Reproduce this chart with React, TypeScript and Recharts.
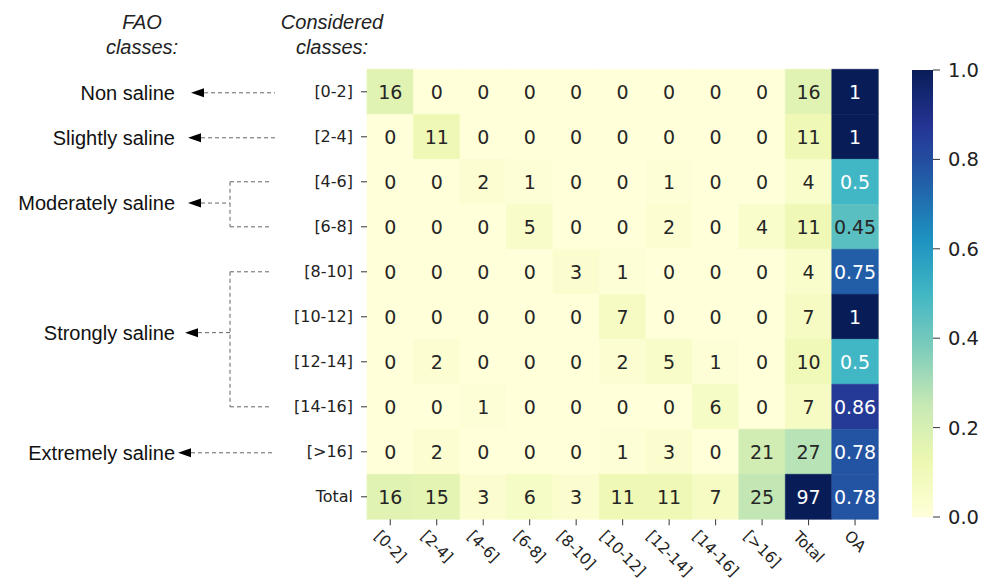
import React from "react";
import { BarChart, Bar, XAxis, YAxis, Cell, LabelList } from "recharts";

// confusion matrix of salinity classes (rows: considered, cols: predicted)
const rowLabels = ["[0-2]", "[2-4]", "[4-6]", "[6-8]", "[8-10]", "[10-12]", "[12-14]", "[14-16]", "[>16]", "Total"];
const colLabels = ["[0-2]", "[2-4]", "[4-6]", "[6-8]", "[8-10]", "[10-12]", "[12-14]", "[14-16]", "[>16]", "Total", "OA"];

const classCounts = [
  [16, 0, 0, 0, 0, 0, 0, 0, 0],
  [0, 11, 0, 0, 0, 0, 0, 0, 0],
  [0, 0, 2, 1, 0, 0, 1, 0, 0],
  [0, 0, 0, 5, 0, 0, 2, 0, 4],
  [0, 0, 0, 0, 3, 1, 0, 0, 0],
  [0, 0, 0, 0, 0, 7, 0, 0, 0],
  [0, 2, 0, 0, 0, 2, 5, 1, 0],
  [0, 0, 1, 0, 0, 0, 0, 6, 0],
  [0, 2, 0, 0, 0, 1, 3, 0, 21],
];
const rowTotals = [16, 11, 4, 11, 4, 7, 10, 7, 27];
const colTotals = [16, 15, 3, 6, 3, 11, 11, 7, 25];
const grandTotal = 97;
const overallAccuracy = [1, 1, 0.5, 0.45, 0.75, 1, 0.5, 0.86, 0.78, 0.78];
const colorbarTicks = [0, 0.2, 0.4, 0.6, 0.8, 1.0];

const faoGroups = [
  { label: "Non saline", rows: [0], at: 0, tip: 191 },
  { label: "Slightly saline", rows: [1], at: 1, tip: 188 },
  { label: "Moderately saline", rows: [2, 3], at: 2.45, tip: 188 },
  { label: "Strongly saline", rows: [4, 5, 6, 7], at: 5.33, tip: 185 },
  { label: "Extremely saline", rows: [8], at: 8, tip: 178 },
];

// layout
const W = 989;
const H = 587;
const TOP = 69.3;
const ROW_H = 45;
const PLOT_LEFT = 367;
const PLOT_RIGHT = 878.3;
const Y_AXIS_W = 100;
const X_AXIS_H = 60;
const rowCenter = (i: number) => TOP + ROW_H * (i + 0.5);

const YLGNBU = ["#ffffd9", "#edf8b1", "#c7e9b4", "#7fcdbb", "#41b6c4", "#1d91c0", "#225ea8", "#253494", "#081d58"];

function hexRgb(h: string) {
  return [1, 3, 5].map((i) => parseInt(h.slice(i, i + 2), 16));
}

function ylgnbu(t: number) {
  const v = Math.max(0, Math.min(1, t)) * (YLGNBU.length - 1);
  const i = Math.min(Math.floor(v), YLGNBU.length - 2);
  const f = v - i;
  const a = hexRgb(YLGNBU[i]);
  const b = hexRgb(YLGNBU[i + 1]);
  const c = a.map((x, k) => Math.round(x + (b[k] - x) * f));
  return { css: `rgb(${c[0]},${c[1]},${c[2]})`, rgb: c };
}

function textOn(rgb: number[]) {
  const lin = rgb.map((x) => {
    const s = x / 255;
    return s <= 0.03928 ? s / 12.92 : Math.pow((s + 0.055) / 1.055, 2.4);
  });
  const lum = 0.2126 * lin[0] + 0.7152 * lin[1] + 0.0722 * lin[2];
  return lum > 0.408 ? "#262626" : "#ffffff";
}

// value and colour scale position for every cell
function cellValue(r: number, c: number) {
  const last = rowLabels.length - 1;
  if (c === colLabels.length - 1) return { v: overallAccuracy[r], n: overallAccuracy[r] };
  let v: number;
  if (r < last && c < 9) v = classCounts[r][c];
  else if (r < last) v = rowTotals[r];
  else if (c < 9) v = colTotals[c];
  else v = grandTotal;
  return { v, n: v / grandTotal };
}

const data = rowLabels.map((label, r) => {
  const o: any = { label };
  colLabels.forEach((_, c) => {
    o[`c${c}`] = 1;
    o[`t${c}`] = String(cellValue(r, c).v);
  });
  return o;
});

const CHAR_W: Record<string, number> = {
  "[": 0.39, "]": 0.39, "-": 0.361, ">": 0.838, T: 0.611, o: 0.612, t: 0.392, a: 0.613, l: 0.278, O: 0.787, A: 0.684,
};
const textWidth = (s: string, fs: number) =>
  s.split("").reduce((w, ch) => w + (CHAR_W[ch] ?? 0.636), 0) * fs;

const XTick = (props: any) => {
  const { x, y, payload } = props;
  const label = colLabels[Math.round(payload.value - 0.5)];
  const fs = 15.5;
  const d = (textWidth(label, fs) + fs * 0.75) * Math.SQRT1_2;
  const cy = y + d / 2;
  return (
    <text
      x={x}
      y={cy}
      transform={`rotate(45 ${x} ${cy})`}
      textAnchor="middle"
      dominantBaseline="central"
      fontSize={fs}
      fontFamily="DejaVu Sans"
      fill="#222"
    >
      {label}
    </text>
  );
};

function Annotations() {
  const dash = "4 3";
  const stroke = "#666";
  const font = "Liberation Sans";
  return (
    <svg width={W} height={H} style={{ position: "absolute", left: 0, top: 0, pointerEvents: "none" }}>
      <g fontFamily={font} fontStyle="italic" fontSize={20} fill="#222" textAnchor="middle">
        <text x={142} y={29}>FAO</text>
        <text x={142} y={54}>classes:</text>
        <text x={332} y={29}>Considered</text>
        <text x={332} y={54}>classes:</text>
      </g>
      {faoGroups.map((g) => {
        const ay = rowCenter(g.at) + 1;
        const single = g.rows.length === 1;
        const bx = single ? 275 : 230;
        const ends = [g.rows[0], g.rows[g.rows.length - 1]];
        return (
          <g key={g.label}>
            <text x={175} y={ay} textAnchor="end" dominantBaseline="central" fontFamily={font} fontSize={20} fill="#111">
              {g.label}
            </text>
            <polygon points={`${g.tip},${ay} ${g.tip + 13},${ay - 4.5} ${g.tip + 13},${ay + 4.5}`} fill="#000" />
            <line x1={g.tip + 13} y1={ay} x2={bx} y2={ay} stroke={stroke} strokeDasharray={dash} />
            {!single && (
              <>
                <line x1={bx} y1={rowCenter(ends[0])} x2={bx} y2={rowCenter(ends[1])} stroke={stroke} strokeDasharray={dash} />
                {ends.map((r) => (
                  <line key={r} x1={bx} y1={rowCenter(r)} x2={271} y2={rowCenter(r)} stroke={stroke} strokeDasharray={dash} />
                ))}
              </>
            )}
          </g>
        );
      })}
    </svg>
  );
}

export default function App() {
  const xTicks = colLabels.map((_, i) => i + 0.5);
  return (
    <div style={{ position: "absolute", left: 0, top: 0, width: W, height: H, background: "#fff" }}>
      <div style={{ position: "absolute", left: 0, top: 0 }}>
        <BarChart
          width={W}
          height={H}
          data={data}
          layout="vertical"
          barCategoryGap={0}
          barGap={0}
          margin={{ top: TOP, right: W - PLOT_RIGHT, bottom: H - TOP - ROW_H * rowLabels.length - X_AXIS_H, left: PLOT_LEFT - Y_AXIS_W }}
        >
          <XAxis
            type="number"
            domain={[0, colLabels.length]}
            ticks={xTicks}
            interval={0}
            height={X_AXIS_H}
            axisLine={false}
            tickLine={{ stroke: "#333" }}
            tickSize={6}
            tickMargin={4}
            tick={<XTick />}
          />
          <YAxis
            type="category"
            dataKey="label"
            width={Y_AXIS_W}
            axisLine={false}
            tickLine={{ stroke: "#333" }}
            tickSize={6}
            tickMargin={8}
            interval={0}
            tick={{ fontSize: 16, fontFamily: "DejaVu Sans", fill: "#222" }}
          />
          {colLabels.map((_, c) => (
            <Bar key={c} dataKey={`c${c}`} stackId="grid" isAnimationActive={false}>
              {rowLabels.map((__, r) => {
                const col = ylgnbu(cellValue(r, c).n).css;
                return <Cell key={r} fill={col} stroke={col} strokeWidth={0.6} />;
              })}
              <LabelList
                dataKey={`t${c}`}
                content={(p: any) => {
                  const { x, y, width, height, index, value } = p;
                  const fill = textOn(ylgnbu(cellValue(index, c).n).rgb);
                  return (
                    <text
                      x={x + width / 2}
                      y={y + height / 2}
                      textAnchor="middle"
                      dominantBaseline="central"
                      fontSize={19}
                      fontFamily="DejaVu Sans"
                      fill={fill}
                    >
                      {value}
                    </text>
                  );
                }}
              />
            </Bar>
          ))}
        </BarChart>
      </div>
      <div style={{ position: "absolute", left: 0, top: 0 }}>
        <BarChart
          width={W}
          height={H}
          data={[{ name: "scale", v: 1 }]}
          barCategoryGap={0}
          margin={{ top: 70, bottom: 70, left: 912, right: W - 933 - 50 }}
        >
          <defs>
            <linearGradient id="ylgnbu" x1="0" y1="1" x2="0" y2="0">
              {YLGNBU.map((c, i) => (
                <stop key={i} offset={i / (YLGNBU.length - 1)} stopColor={c} />
              ))}
            </linearGradient>
          </defs>
          <XAxis dataKey="name" hide />
          <YAxis
            orientation="right"
            domain={[0, 1]}
            ticks={colorbarTicks}
            width={50}
            axisLine={false}
            tickLine={{ stroke: "#333" }}
            tickSize={7}
            tickMargin={8}
            tickFormatter={(v: number) => v.toFixed(1)}
            tick={{ fontSize: 19.5, fontFamily: "DejaVu Sans", fill: "#222", textAnchor: "start" }}
          />
          <Bar dataKey="v" fill="url(#ylgnbu)" isAnimationActive={false} />
        </BarChart>
      </div>
      <Annotations />
    </div>
  );
}
